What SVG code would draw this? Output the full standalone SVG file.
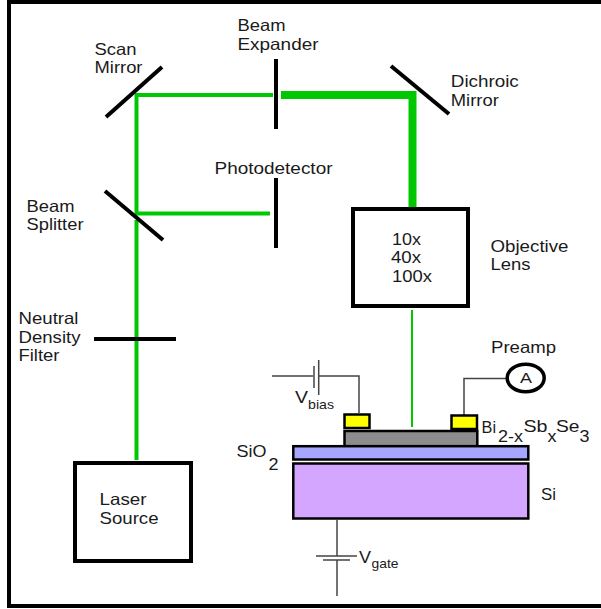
<svg xmlns="http://www.w3.org/2000/svg" width="601" height="609" viewBox="0 0 601 609">
<style>
text{font-family:"Liberation Sans",Arial,sans-serif;font-size:16.500px;fill:#1a1a1a}
.s{font-size:13px}
.b{fill:none;stroke:#000;stroke-width:4}
.o{fill:none;stroke:#000;stroke-width:4}
.g{fill:none;stroke:#00c800;stroke-width:4}
.w{fill:none;stroke:#444;stroke-width:1.500}
.d{stroke:#000;stroke-width:2.500}
</style>
<rect width="601" height="609" fill="#fff"/>
<path id="frame" class="o" d="M601 2H9V606H601"/>
<g id="connectors">
<path class="g" d="M273 95H136.500V213.500H270"/>
<path class="g" d="M136.500 220V460"/>
<path class="g" d="M281 95H412.500V210" style="stroke-width:8"/>
<path class="g" d="M412 310V427" style="stroke-width:2"/>
<path class="w" d="M272 376H313M319 376H359V413"/>
<path class="w" d="M314 366V388M318.700 360V395"/>
<path class="w" d="M464 415V378.500H506"/>
<path class="w" d="M337 520V556M316 556H357M323 560H350M337 560V596"/>
</g>
<g id="scan-mirror"><path class="b" d="M106 117L162 67"/><text x="94.500" y="55" textLength="42" lengthAdjust="spacingAndGlyphs">Scan</text><text x="94.500" y="73" textLength="48" lengthAdjust="spacingAndGlyphs">Mirror</text></g>
<g id="beam-splitter"><path class="b" d="M105 191L163 240"/><text x="26.500" y="212.300" textLength="48" lengthAdjust="spacingAndGlyphs">Beam</text><text x="26.500" y="230" textLength="57" lengthAdjust="spacingAndGlyphs">Splitter</text></g>
<g id="beam-expander"><path class="b" d="M276 59V129"/><text x="237.500" y="30.700" textLength="48" lengthAdjust="spacingAndGlyphs">Beam</text><text x="237.500" y="50" textLength="81" lengthAdjust="spacingAndGlyphs">Expander</text></g>
<g id="photodetector"><path class="b" d="M276 178V248"/><text x="214.500" y="174" textLength="118" lengthAdjust="spacingAndGlyphs">Photodetector</text></g>
<g id="dichroic-mirror"><path class="b" d="M391 66L449 114"/><text x="450.800" y="87.300" textLength="68" lengthAdjust="spacingAndGlyphs">Dichroic</text><text x="450.800" y="106" textLength="48" lengthAdjust="spacingAndGlyphs">Mirror</text></g>
<g id="objective-lens"><rect class="o" x="353" y="209" width="115" height="97"/><text x="392" y="245" textLength="29" lengthAdjust="spacingAndGlyphs">10x</text><text x="391" y="263.300" textLength="30" lengthAdjust="spacingAndGlyphs">40x</text><text x="392" y="281.700" textLength="40" lengthAdjust="spacingAndGlyphs">100x</text><text x="490.500" y="251.700" textLength="78" lengthAdjust="spacingAndGlyphs">Objective</text><text x="490.500" y="270" textLength="40" lengthAdjust="spacingAndGlyphs">Lens</text></g>
<g id="nd-filter"><path class="b" d="M94 339H176"/><text x="18.500" y="324" textLength="60" lengthAdjust="spacingAndGlyphs">Neutral</text><text x="18.500" y="343.300" textLength="62" lengthAdjust="spacingAndGlyphs">Density</text><text x="18.500" y="361" textLength="41" lengthAdjust="spacingAndGlyphs">Filter</text></g>
<g id="laser-source"><rect class="o" x="75" y="463" width="116" height="98"/><text x="99.500" y="505" textLength="47" lengthAdjust="spacingAndGlyphs">Laser</text><text x="99.500" y="524" textLength="59" lengthAdjust="spacingAndGlyphs">Source</text></g>
<g id="preamp"><ellipse cx="525.700" cy="378" rx="18.500" ry="13.800" fill="#fff" stroke="#000" stroke-width="3.500"/><text x="520" y="383" textLength="12" lengthAdjust="spacingAndGlyphs" style="font-size:15px">A</text><text x="491" y="353.300" textLength="65" lengthAdjust="spacingAndGlyphs">Preamp</text></g>
<g id="contact-left"><rect class="d" x="344.500" y="414.500" width="25" height="13.500" fill="#ff0"/></g>
<g id="contact-right"><rect class="d" x="451.500" y="415.500" width="25.500" height="13.500" fill="#ff0"/></g>
<g id="film"><rect class="d" x="344.500" y="431" width="132.800" height="15.200" fill="#8c8c8c"/><text x="481.500" y="432.700" textLength="14.500" lengthAdjust="spacingAndGlyphs">Bi</text><text x="498" y="441.700" textLength="25" lengthAdjust="spacingAndGlyphs">2-x</text><text x="523.500" y="431.700" textLength="24" lengthAdjust="spacingAndGlyphs">Sb</text><text x="547.500" y="441.700" textLength="9" lengthAdjust="spacingAndGlyphs">x</text><text x="556" y="431.700" textLength="23.500" lengthAdjust="spacingAndGlyphs">Se</text><text x="579.500" y="441.700" textLength="10" lengthAdjust="spacingAndGlyphs">3</text></g>
<g id="sio2"><rect class="d" x="293.300" y="446.200" width="235" height="13.300" fill="#a6a6ff"/><text x="236.500" y="456.700" textLength="30" lengthAdjust="spacingAndGlyphs">SiO</text><text x="268.500" y="470" textLength="10" lengthAdjust="spacingAndGlyphs">2</text></g>
<g id="si"><rect class="d" x="293.300" y="463.500" width="235" height="55" fill="#d5a6ff"/><text x="541" y="500" textLength="15" lengthAdjust="spacingAndGlyphs">Si</text></g>
<g id="v-bias"><text x="295" y="403.300" textLength="13" lengthAdjust="spacingAndGlyphs">V</text><text x="308" y="409" class="s" textLength="26" lengthAdjust="spacingAndGlyphs">bias</text></g>
<g id="v-gate"><text x="359" y="563.300" textLength="12" lengthAdjust="spacingAndGlyphs">V</text><text x="371.500" y="567.700" class="s" textLength="27" lengthAdjust="spacingAndGlyphs">gate</text></g>
</svg>
